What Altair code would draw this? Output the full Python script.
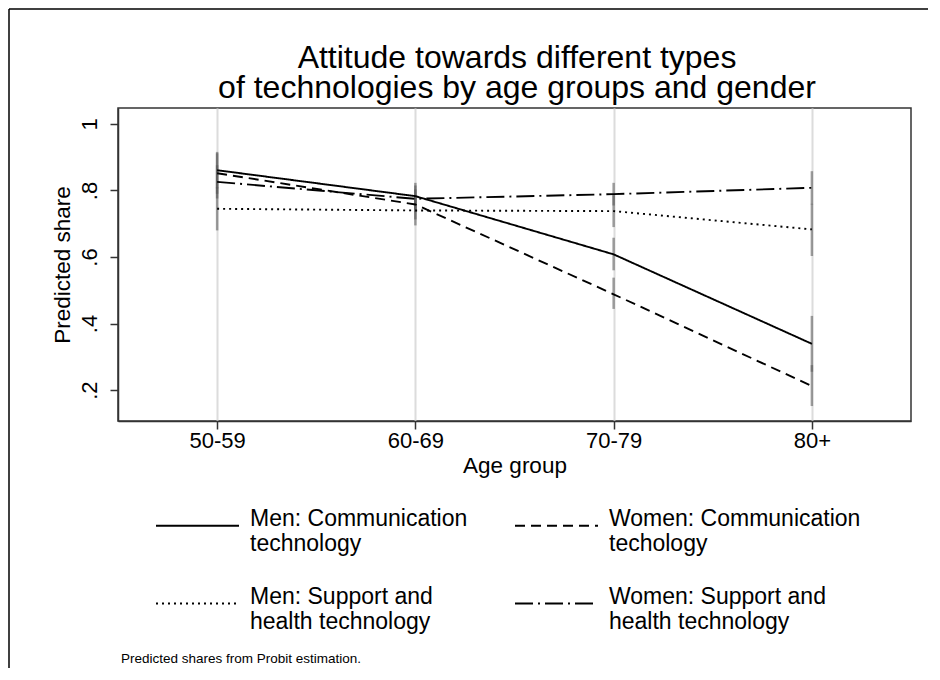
import altair as alt
import pandas as pd

age_groups = ["50-59", "60-69", "70-79", "80+"]
series = [
    "Men: Communication\ntechnology",
    "Women: Communication\ntechology",
    "Men: Support and\nhealth technology",
    "Women: Support and\nhealth technology",
]
men_comm = [0.861, 0.783, 0.608, 0.339]
women_comm = [0.852, 0.758, 0.488, 0.212]
men_support = [0.745, 0.740, 0.738, 0.683]
women_support = [0.826, 0.775, 0.789, 0.808]

men_comm_lo = [0.806, 0.743, 0.560, 0.255]
men_comm_hi = [0.916, 0.823, 0.658, 0.423]
women_comm_lo = [0.790, 0.713, 0.444, 0.152]
women_comm_hi = [0.912, 0.803, 0.538, 0.275]
men_support_lo = [0.680, 0.695, 0.690, 0.603]
men_support_hi = [0.810, 0.785, 0.786, 0.760]
women_support_lo = [0.776, 0.735, 0.755, 0.758]
women_support_hi = [0.876, 0.815, 0.823, 0.858]

dashes = [[1, 0], [10, 6], [2, 4], [18, 5, 2, 5]]

title_lines = ["Attitude towards different types", "of technologies by age groups and gender"]
note = "Predicted shares from Probit estimation."

rows = []
for s, v, lo, hi in zip(
    series,
    [men_comm, women_comm, men_support, women_support],
    [men_comm_lo, women_comm_lo, men_support_lo, women_support_lo],
    [men_comm_hi, women_comm_hi, men_support_hi, women_support_hi],
):
    for a, vv, l, h in zip(age_groups, v, lo, hi):
        rows.append({"age": a, "series": s, "value": vv, "lo": l, "hi": h})
df = pd.DataFrame(rows)

# legend domain order (column-major fill into 2 columns)
legend_order = [series[0], series[2], series[1], series[3]]
legend_dashes = [dashes[0], dashes[2], dashes[1], dashes[3]]

FONT = "Liberation Sans"

x_enc = alt.X(
    "age:N",
    sort=age_groups,
    scale=alt.Scale(type="point", padding=0.5),
    axis=alt.Axis(
        title="Age group",
        labelAngle=0,
        grid=True,
        gridColor="#dcdcdc",
        gridWidth=2,
        tickSize=8,
        labelPadding=1,
        titlePadding=3,
    ),
)
y_scale = alt.Scale(domain=[0.107, 1.048], nice=False, zero=False)
y_axis = alt.Axis(
    title="Predicted share",
    values=[0.2, 0.4, 0.6, 0.8, 1.0],
    labelExpr="datum.value == 1 ? '1' : replace(format(datum.value, '.1f'), '0.', '.')",
    labelAngle=270,
    labelAlign="center",
    labelBaseline="bottom",
    grid=False,
    tickSize=8,
    labelPadding=9,
    titlePadding=4,
)

bars = alt.Chart(df).mark_rule(color="#555555", opacity=0.55, strokeWidth=2.5).encode(
    x=x_enc,
    y=alt.Y("lo:Q", scale=y_scale, axis=y_axis),
    y2="hi:Q",
)

lines = alt.Chart(df).mark_line(color="black", strokeWidth=1.9).encode(
    x=x_enc,
    y=alt.Y("value:Q", scale=y_scale, axis=y_axis),
    strokeDash=alt.StrokeDash(
        "series:N",
        scale=alt.Scale(domain=legend_order, range=legend_dashes),
        legend=alt.Legend(
            title=None,
            orient="none",
            legendX=37,
            legendY=375,
            columns=2,
            symbolType="stroke",
            symbolSize=6889,
            symbolStrokeWidth=2,
            symbolStrokeColor="black",
            labelFontSize=23,
            labelFont=FONT,
            labelColor="black",
            labelLimit=400,
            labelOffset=10,
            labelBaseline="alphabetic",
            labelExpr="split(datum.label, '\\n')",
            columnPadding=43,
            rowPadding=5,
        ),
    ),
)

one = pd.DataFrame({"k": [0]})
frame_left = alt.Chart(one).mark_rule(color="black", strokeWidth=1.5).encode(
    x=alt.value(-109), y=alt.value(-99), y2=alt.value(560)
)
frame_top = alt.Chart(one).mark_rule(color="black", strokeWidth=1.5).encode(
    x=alt.value(-109), x2=alt.value(810), y=alt.value(-99)
)
title = alt.Chart(one).mark_text(
    text=title_lines,
    align="center",
    baseline="alphabetic",
    font=FONT,
    fontSize=32,
    lineHeight=30,
    color="black",
).encode(x=alt.value(399), y=alt.value(-40))
footer = alt.Chart(one).mark_text(
    text=note,
    align="left",
    baseline="alphabetic",
    font=FONT,
    fontSize=13.5,
    color="black",
).encode(x=alt.value(3), y=alt.value(555))

chart = (
    alt.layer(frame_left, frame_top, bars, lines, title, footer)
    .properties(width=793, height=313, padding=0)
    .configure(background="white")
    .configure_view(stroke="#333333", strokeWidth=1.5)
    .configure_axis(
        labelFont=FONT,
        titleFont=FONT,
        labelFontSize=22,
        titleFontSize=22.5,
        titleFontWeight="normal",
        labelColor="black",
        titleColor="black",
        domainColor="#333333",
        domainWidth=1.5,
        tickColor="#333333",
        tickWidth=1.5,
    )
)

chart.save("out.html", embed_options={"renderer": "svg", "actions": False})
